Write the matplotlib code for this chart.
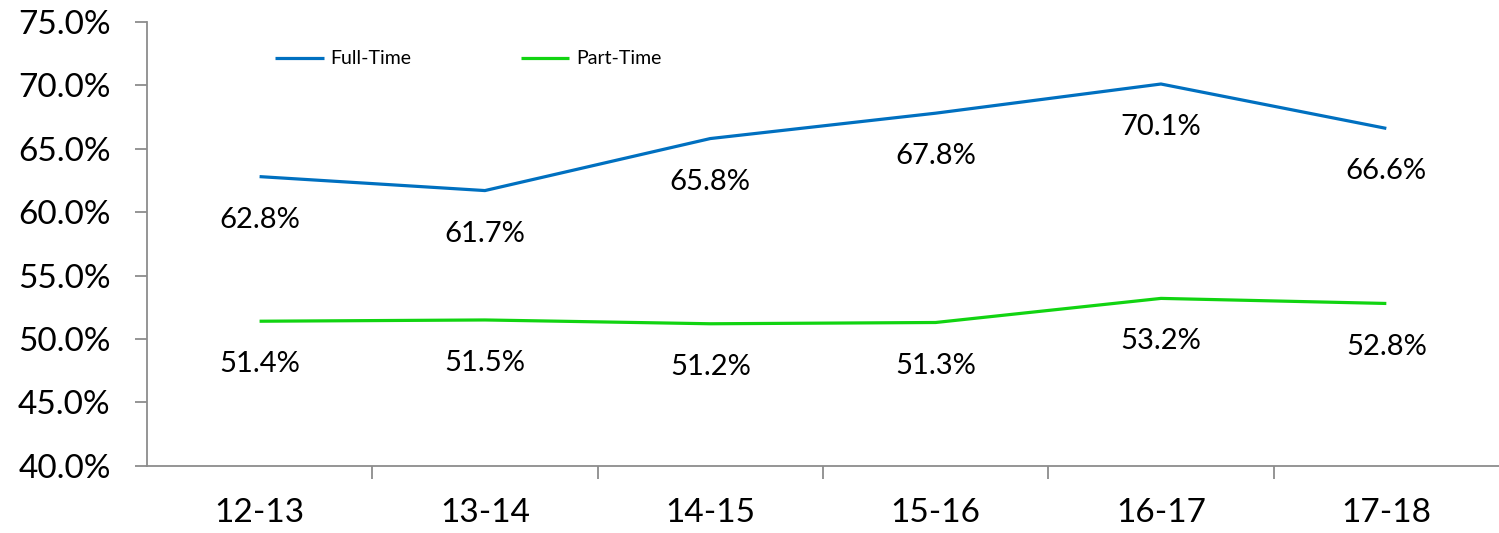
import matplotlib.pyplot as plt
import matplotlib.ticker as ticker

years = ["12-13", "13-14", "14-15", "15-16", "16-17", "17-18"]
full_time = [62.8, 61.7, 65.8, 67.8, 70.1, 66.6]
part_time = [51.4, 51.5, 51.2, 51.3, 53.2, 52.8]

COLORS = {"Full-Time": "#0070C0", "Part-Time": "#11D411"}
GREY = "#8C8C8C"

plt.rcParams["font.family"] = ["Lato", "DejaVu Sans"]

fig = plt.figure(figsize=(14.99, 5.33), dpi=100)
ax = fig.add_axes([0.098, 0.126, 0.902, 0.833])

x = list(range(len(years)))
for label, vals in (("Full-Time", full_time), ("Part-Time", part_time)):
    c = COLORS[label]
    ax.plot(x, vals, color=c, linewidth=2.3, label=label, solid_capstyle="butt")
    for xi, v in zip(x, vals):
        ax.annotate(f"{v:.1f}%", (xi, v), xytext=(0, -31), textcoords="offset points",
                    ha="center", va="center", fontsize=21, color="black")

ax.set_xlim(-0.5, len(years) - 0.5)
ax.set_ylim(40, 75)
ax.yaxis.set_major_locator(ticker.MultipleLocator(5))
ax.yaxis.set_major_formatter(ticker.FuncFormatter(lambda v, p: f"{v:.1f}%"))
ax.set_xticks(x)
ax.set_xticklabels(years)
ax.set_xticks([i + 0.5 for i in range(len(years) - 1)], minor=True)

ax.tick_params(axis="y", direction="out", length=9, width=1.3, color=GREY,
               labelsize=24, pad=17)
ax.tick_params(axis="x", which="major", length=0, labelsize=24, pad=23)
ax.tick_params(axis="x", which="minor", direction="out", length=9, width=1.3, color=GREY)

for s in ("top", "right"):
    ax.spines[s].set_visible(False)
for s in ("left", "bottom"):
    ax.spines[s].set_color(GREY)
    ax.spines[s].set_linewidth(1.3)

ax.legend(loc="upper left", bbox_to_anchor=(0.082, 0.975), ncol=2, frameon=False,
          fontsize=14, handlelength=2.5, handletextpad=0.35, columnspacing=5.6)

plt.savefig("out.png", dpi=100)
